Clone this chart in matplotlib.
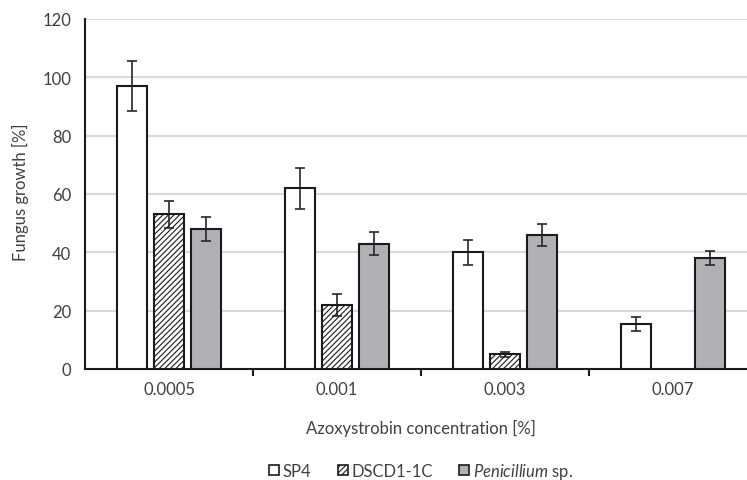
import matplotlib
matplotlib.use('Agg')
import matplotlib.pyplot as plt
from matplotlib.patches import Patch
import numpy as np

plt.rcParams['font.family'] = ['Lato', 'DejaVu Sans']
plt.rcParams['mathtext.fontset'] = 'custom'
plt.rcParams['mathtext.it'] = 'Lato:italic'
plt.rcParams['mathtext.rm'] = 'Lato'
plt.rcParams['hatch.linewidth'] = 0.8

# data
concentrations = ['0.0005', '0.001', '0.003', '0.007']
sp4 = [97, 62, 40, 15.5]
sp4_err = [8.6, 7.0, 4.2, 2.3]
dscd = [53, 22, 5, 0]
dscd_err = [4.5, 3.7, 1.0, 0]
penic = [48, 43, 46, 38]
penic_err = [4.2, 4.0, 3.8, 2.4]

text_col = '#404040'
edge_col = '#1a1a1a'
gray_fill = '#b1b1b4'
fs = 12

fig = plt.figure(figsize=(7.47, 4.81), dpi=100)
ax = fig.add_axes([85/747, 111/481, 672/747, 350/481])

x = np.arange(len(concentrations))
w = 0.179
off = 0.222
ekw = dict(ecolor='#262626', elinewidth=1.2, capsize=3.3, capthick=1.2)

ax.bar(x - off, sp4, w, yerr=sp4_err, color='white', edgecolor=edge_col,
       linewidth=1.5, error_kw=ekw, zorder=3)
ax.bar(x[:3], dscd[:3], w, yerr=dscd_err[:3], color='white', edgecolor=edge_col,
       hatch='//////', linewidth=1.5, error_kw=ekw, zorder=3)
ax.bar(x + off, penic, w, yerr=penic_err, color=gray_fill, edgecolor=edge_col,
       linewidth=1.5, error_kw=ekw, zorder=3)

ax.set_xlim(-0.5, 3.5)
ax.set_ylim(0, 120)
ax.set_yticks(np.arange(0, 121, 20))
ax.yaxis.grid(True, color='#d9d9d9', linewidth=1.5, zorder=0)
ax.set_axisbelow(True)

# category labels centered, ticks at category boundaries
ax.set_xticks(x)
ax.set_xticklabels(concentrations)
ax.tick_params(axis='x', length=0, pad=9, labelsize=fs, labelcolor=text_col)
ax.set_xticks(np.arange(0.5, 3.5, 1), minor=True)
ax.tick_params(axis='x', which='minor', length=5, width=1.5, color=edge_col)
ax.tick_params(axis='y', length=0, pad=10, labelsize=fs, labelcolor=text_col)

for s in ['top', 'right']:
    ax.spines[s].set_visible(False)
for s in ['left', 'bottom']:
    ax.spines[s].set_color(edge_col)
    ax.spines[s].set_linewidth(1.5)

fig.text(421/747, 1 - 428/481, 'Azoxystrobin concentration [%]', ha='center',
         va='center', fontsize=fs, color=text_col)
fig.text(20/747, 1 - 192/481, 'Fungus growth [%]', ha='center', va='center',
         rotation=90, fontsize=fs, color=text_col)

handles = [Patch(facecolor='white', edgecolor=edge_col, linewidth=1.2),
           Patch(facecolor='white', edgecolor=edge_col, hatch='//////', linewidth=1.2),
           Patch(facecolor=gray_fill, edgecolor=edge_col, linewidth=1.2)]
labels = ['SP4', 'DSCD1-1C', r'$\it{Penicillium}$ sp.']
leg = fig.legend(handles, labels, ncol=3, loc='center', bbox_to_anchor=(421/747, 1 - 472/481),
                 frameon=False, fontsize=fs, handlelength=0.6, handleheight=0.6,
                 handletextpad=0.2, columnspacing=1.6, borderpad=0, borderaxespad=0)
for t in leg.get_texts():
    t.set_color(text_col)

fig.savefig('out.png', dpi=100)
